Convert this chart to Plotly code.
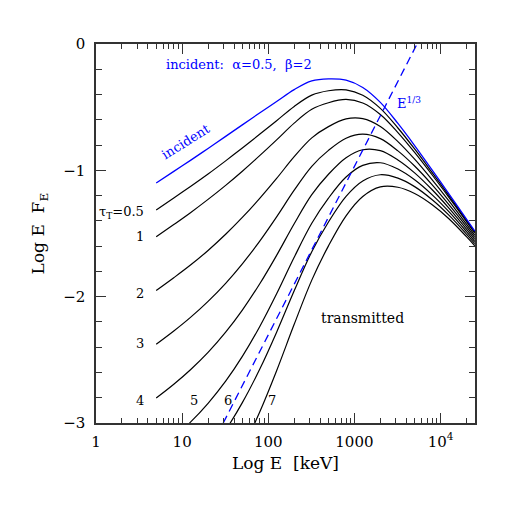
import plotly.graph_objects as go

# Spectra: Log E F_E versus photon energy E (keV)
energy_kev = [5, 8, 12.5, 20, 32, 50, 80, 125, 200, 320, 500, 800, 1250, 2000, 3200, 5000, 8000, 12500, 20000, 25000]

incident = [-1.100, -1.008, -0.921, -0.827, -0.731, -0.640, -0.544, -0.455, -0.361, -0.292,
            -0.276, -0.286, -0.344, -0.462, -0.629, -0.804, -0.998, -1.186, -1.386, -1.481]

tau_05 = [-1.313, -1.219, -1.128, -1.029, -0.925, -0.823, -0.713, -0.607, -0.494, -0.405,
          -0.370, -0.363, -0.406, -0.510, -0.665, -0.831, -1.018, -1.200, -1.396, -1.489]
tau_1 = [-1.526, -1.429, -1.335, -1.230, -1.119, -1.007, -0.882, -0.759, -0.626, -0.517,
         -0.465, -0.439, -0.467, -0.558, -0.701, -0.858, -1.037, -1.214, -1.406, -1.498]
tau_2 = [-1.951, -1.850, -1.750, -1.634, -1.506, -1.373, -1.220, -1.064, -0.892, -0.743,
         -0.654, -0.593, -0.591, -0.653, -0.773, -0.912, -1.076, -1.242, -1.426, -1.514]
tau_3 = [-2.377, -2.272, -2.164, -2.037, -1.894, -1.740, -1.558, -1.368, -1.157, -0.968,
         -0.842, -0.746, -0.714, -0.749, -0.846, -0.966, -1.115, -1.271, -1.445, -1.531]
tau_4 = [-2.802, -2.693, -2.578, -2.441, -2.281, -2.106, -1.896, -1.673, -1.423, -1.193,
         -1.031, -0.900, -0.837, -0.844, -0.918, -1.020, -1.154, -1.299, -1.465, -1.547]
tau_5 = [-3.228, -3.114, -2.993, -2.844, -2.669, -2.473, -2.234, -1.977, -1.688, -1.419,
         -1.220, -1.053, -0.961, -0.940, -0.990, -1.075, -1.194, -1.327, -1.485, -1.564]
tau_6 = [-3.654, -3.535, -3.407, -3.247, -3.056, -2.839, -2.571, -2.281, -1.953, -1.644,
         -1.409, -1.206, -1.084, -1.035, -1.062, -1.129, -1.233, -1.355, -1.505, -1.581]
tau_7 = [-4.079, -3.956, -3.821, -3.651, -3.444, -3.206, -2.909, -2.586, -2.219, -1.869,
         -1.598, -1.360, -1.207, -1.131, -1.134, -1.183, -1.272, -1.383, -1.525, -1.597]

transmitted = [tau_05, tau_1, tau_2, tau_3, tau_4, tau_5, tau_6, tau_7]

# E^(1/3) reference line (straight in log-log)
ref_energy = [30, 5330]
ref_logf = [-3.0, 0.0]

x_tickvals = [1, 10, 100, 1000, 10000]
x_ticktext = ["1", "10", "100", "1000", "10<sup>4</sup>"]
y_tickvals = [-3, -2, -1, 0]
y_ticktext = ["\u22123", "\u22122", "\u22121", "0"]

FONT = "DejaVu Serif"
BLUE = "#0000ff"
AXC = "#333333"

fig = go.Figure()

for ys in transmitted:
    fig.add_trace(go.Scatter(
        x=energy_kev, y=ys, mode="lines",
        line=dict(color="black", width=1.2, shape="spline"),
        showlegend=False, hoverinfo="skip"
    ))

fig.add_trace(go.Scatter(
    x=energy_kev, y=incident, mode="lines",
    line=dict(color=BLUE, width=1.3, shape="spline"),
    showlegend=False, hoverinfo="skip"
))

fig.add_trace(go.Scatter(
    x=ref_energy, y=ref_logf, mode="lines",
    line=dict(color=BLUE, width=1.3, dash="8px,5px"),
    showlegend=False, hoverinfo="skip"
))

# text labels inside the plot
def label(text, x, y, color="black", size=13, anchor="center", angle=0):
    fig.add_annotation(text=text, x=x, y=y, xref="x", yref="y", showarrow=False,
                       xanchor=anchor, yanchor="middle", textangle=angle,
                       font=dict(family=FONT, size=size, color=color))

label("incident:  \u03b1=0.5,  \u03b2=2", 1.66, -0.166, color=BLUE)
label("incident", 1.044, -0.774, color=BLUE, angle=-32)
label("E<sup>1/3</sup>", 3.63, -0.467, color=BLUE)
label("\u03c4<sub>T</sub>=0.5", 0.58, -1.33, anchor="right")
label("1", 0.58, -1.52, anchor="right")
label("2", 0.58, -1.974, anchor="right")
label("3", 0.58, -2.37, anchor="right")
label("4", 0.58, -2.82, anchor="right")
label("5", 1.137, -2.82)
label("6", 1.535, -2.82)
label("7", 2.038, -2.82)
label("transmitted", 3.09, -2.172, size=14)

# axis titles
fig.add_annotation(text="Log E  [keV]", x=0.499, y=-0.106, xref="paper", yref="paper",
                   showarrow=False, xanchor="center", yanchor="middle",
                   font=dict(family=FONT, size=17, color="black"))
fig.add_annotation(text="Log E  F<sub>E</sub>", x=-0.148, y=0.5, xref="paper", yref="paper",
                   showarrow=False, xanchor="center", yanchor="middle", textangle=-90,
                   font=dict(family=FONT, size=17, color="black"))

fig.update_xaxes(
    type="log", range=[0, 4.4],
    tickvals=x_tickvals, ticktext=x_ticktext,
    ticks="inside", ticklen=10, tickwidth=1.2, tickcolor=AXC,
    minor=dict(ticks="inside", ticklen=5, tickwidth=1, tickcolor=AXC, dtick="D1", showgrid=False),
    showline=True, linecolor=AXC, linewidth=1.5, mirror="allticks",
    showgrid=False, zeroline=False,
    tickfont=dict(family=FONT, size=15, color="black"), ticklabelstandoff=4
)
fig.update_yaxes(
    range=[-3, 0],
    tickvals=y_tickvals, ticktext=y_ticktext,
    ticks="inside", ticklen=10, tickwidth=1.2, tickcolor=AXC,
    minor=dict(ticks="inside", ticklen=6, tickwidth=1, tickcolor=AXC, dtick=0.2, showgrid=False),
    showline=True, linecolor=AXC, linewidth=1.5, mirror="allticks",
    showgrid=False, zeroline=False,
    tickfont=dict(family=FONT, size=15, color="black"), ticklabelstandoff=6
)

fig.update_layout(
    width=518, height=518,
    margin=dict(l=96, r=43, t=44, b=95),
    plot_bgcolor="white", paper_bgcolor="white"
)

fig.write_html("out.html", config={"displayModeBar": False},
               post_script="document.body.style.margin='0';")
